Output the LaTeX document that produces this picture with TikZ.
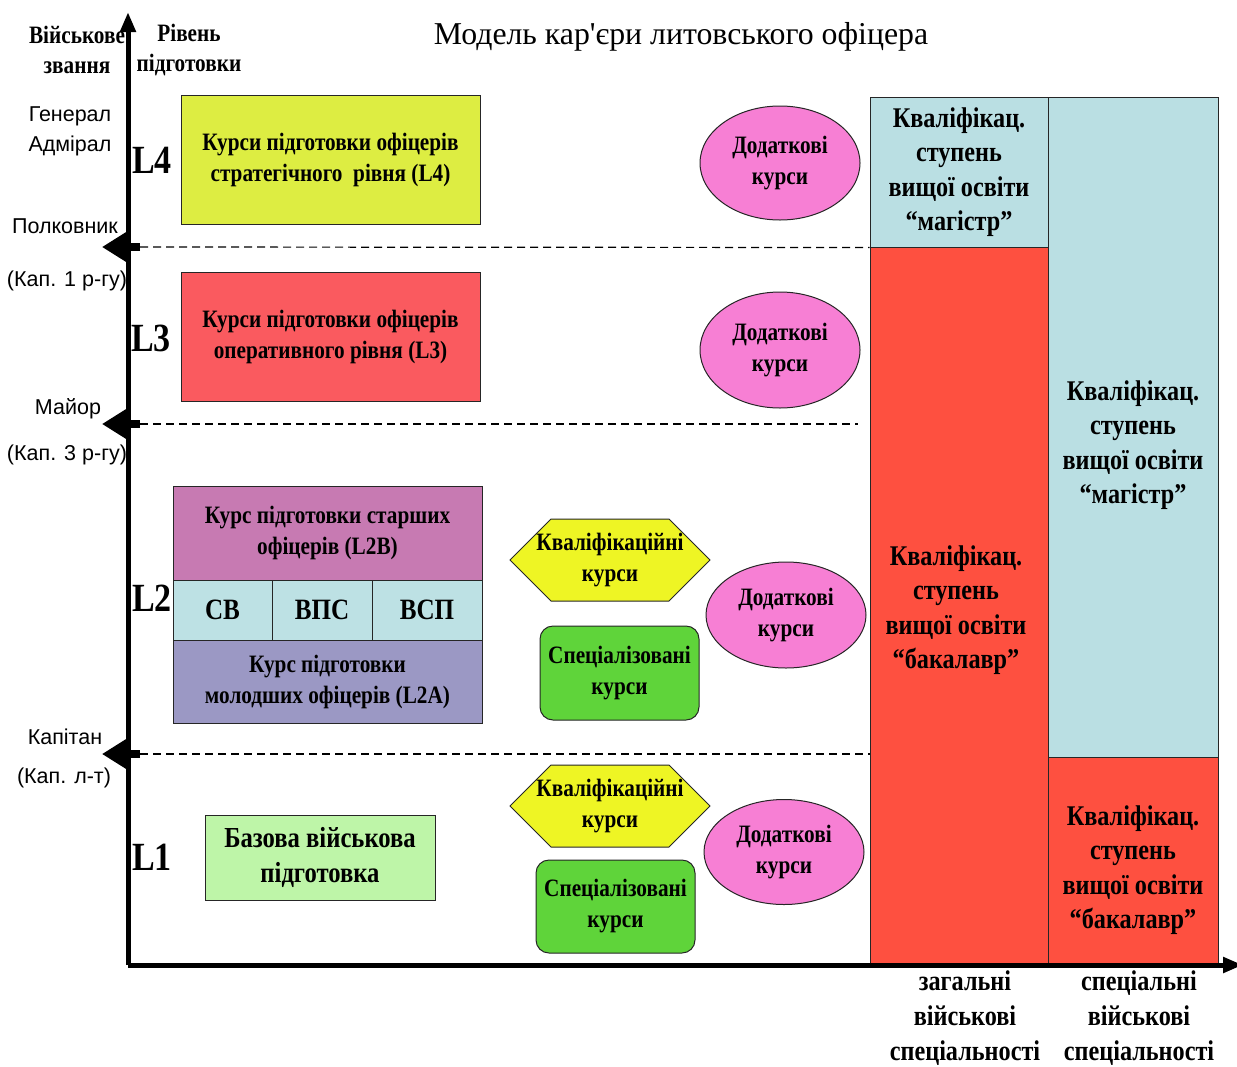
\documentclass[tikz,border=0pt]{standalone}
\usepackage{fontspec}
\setmainfont{Liberation Serif}
\newfontfamily\ranksf{Liberation Sans}
\newfontfamily\condrm[FakeStretch=0.85]{Liberation Serif}
\usetikzlibrary{arrows.meta,shapes.geometric,shapes.symbols}

\definecolor{strat}{RGB}{221,237,66}
\definecolor{oper}{RGB}{250,90,95}
\definecolor{senior}{RGB}{199,122,178}
\definecolor{branch}{RGB}{189,225,228}
\definecolor{junior}{RGB}{155,152,196}
\definecolor{basic}{RGB}{190,245,168}
\definecolor{qual}{RGB}{238,245,36}
\definecolor{spec}{RGB}{95,212,58}
\definecolor{extra}{RGB}{247,127,212}
\definecolor{bachelor}{RGB}{254,80,64}
\definecolor{master}{RGB}{186,223,227}

\begin{document}
\begin{tikzpicture}[x=1pt, y=-1pt,
    course/.style={draw=black!85, line width=1pt, align=center, inner sep=0pt,
      font=\condrm\bfseries\fontsize{25}{31}\selectfont},
    hexa/.style={course, signal, signal to=west and east, fill=qual, inner xsep=-15pt},
    extracourse/.style={course, ellipse, fill=extra, minimum width=160pt},
    degree/.style={course, fill=#1, font=\condrm\bfseries\fontsize{28.5}{34.5}\selectfont},
    rank/.style={font=\ranksf\fontsize{21.5}{30}\selectfont, align=center},
    level/.style={font=\condrm\bfseries\fontsize{40}{40}\selectfont},
    rankarrow/.style={line width=8pt, -{Triangle[length=24pt,width=28pt]}},
    grid/.style={dashed, dash pattern=on 8pt off 5pt, line width=1.2pt}]
  \useasboundingbox (0,0) rectangle (1237,1066);

  % Title and axis labels
  \node[font=\fontsize{31.8}{32}\selectfont] (title) at (681,37) {Модель кар\textquotesingle єри литовського офіцера};
  \node[font=\condrm\bfseries\fontsize{25}{30}\selectfont, align=center] (rankhead) at (77,50) {Військове\\звання};
  \node[font=\condrm\bfseries\fontsize{25}{30}\selectfont, align=center] (levelhead) at (189,50) {Рівень\\підготовки};

  % Ranks
  \node[rank] (general) at (70,131) {Генерал\\Адмірал};
  \node[rank] (colonel) at (65,226) {Полковник};
  \node[rank] (colonel2) at (67,281) {(Кап. 1 р-гу)};
  \node[rank] (major) at (68,409) {Майор};
  \node[rank] (major2) at (67,455) {(Кап. 3 р-гу)};
  \node[rank] (captain) at (65,737) {Капітан};
  \node[rank] (captain2) at (64,778) {(Кап. л-т)};

  % Levels
  \node[level] (L4) at (152,160) {L4};
  \node[level] (L3) at (151,338) {L3};
  \node[level] (L2) at (152,598) {L2};
  \node[level] (L1) at (152,857) {L1};

  % Officer courses
  \node[course, fill=strat, minimum width=299pt, minimum height=129pt] (l4box) at (330.5,159.5)
    {Курси підготовки офіцерів\\стратегічного\ \ рівня (L4)};
  \node[course, fill=oper, minimum width=299pt, minimum height=129pt] (l3box) at (330.5,336.5)
    {Курси підготовки офіцерів\\оперативного рівня (L3)};
  \node[course, fill=senior, minimum width=309pt, minimum height=94pt] (l2bbox) at (327.5,533)
    {Курс підготовки старших\\офіцерів (L2B)};
  \node[course, fill=branch, minimum width=99pt, minimum height=60pt, font=\condrm\bfseries\fontsize{29.5}{29.5}\selectfont] (sv) at (222.5,610) {СВ};
  \node[course, fill=branch, minimum width=100pt, minimum height=60pt, font=\condrm\bfseries\fontsize{29.5}{29.5}\selectfont] (vps) at (322,610) {ВПС};
  \node[course, fill=branch, minimum width=110pt, minimum height=60pt, font=\condrm\bfseries\fontsize{29.5}{29.5}\selectfont] (vsp) at (427,610) {\raisebox{-3pt}{ВСП}};
  \node[course, fill=junior, minimum width=309pt, minimum height=83pt] (l2abox) at (327.5,681.5)
    {Курс підготовки\\молодших офіцерів (L2A)};
  \node[course, fill=basic, minimum width=230pt, minimum height=85pt, font=\condrm\bfseries\fontsize{29}{35}\selectfont] (l1box) at (320,857.5)
    {Базова військова\\підготовка};

  % Qualification, specialised and extra courses
  \node[hexa, minimum width=200pt, minimum height=82pt] (qual2) at (610,560) {Кваліфікаційні\\курси};
  \node[hexa, minimum width=200pt, minimum height=82pt] (qual1) at (610,806) {Кваліфікаційні\\курси};
  \node[course, fill=spec, rounded corners=13pt, minimum width=159pt, minimum height=94pt] (spec2) at (619.5,673) {Спеціалізовані\\курси};
  \node[course, fill=spec, rounded corners=13pt, minimum width=159pt, minimum height=93pt] (spec1) at (615.5,906.5) {Спеціалізовані\\курси};
  \node[extracourse, minimum height=114pt] (add4) at (780,163) {Додаткові\\курси};
  \node[extracourse, minimum height=116pt] (add3) at (780,350) {Додаткові\\курси};
  \node[extracourse, minimum height=106pt] (add2) at (786,615) {Додаткові\\курси};
  \node[extracourse, minimum height=105pt] (add1) at (784,852) {Додаткові\\курси};

  % Degrees
  \node[degree=master, minimum width=178pt, minimum height=150pt] (mag1) at (959,172)
    {Кваліфікац.\\ступень\\вищої освіти\\“магістр”};
  \node[degree=bachelor, minimum width=178pt, minimum height=718pt] (bak1) at (959,606) {};
  \node[degree=master, minimum width=170pt, minimum height=660pt] (mag2) at (1133,427) {};
  \node[degree=bachelor, minimum width=170pt, minimum height=208pt] (bak2) at (1133,861) {};
  \node[degree=bachelor, draw=none, fill=none] (bak1text) at (956,610)
    {Кваліфікац.\\ступень\\вищої освіти\\“бакалавр”};
  \node[degree=master, draw=none, fill=none] (mag2text) at (1133,445)
    {Кваліфікац.\\ступень\\вищої освіти\\“магістр”};
  \node[degree=bachelor, draw=none, fill=none] (bak2text) at (1133,870)
    {Кваліфікац.\\ступень\\вищої освіти\\“бакалавр”};
  \node[font=\condrm\bfseries\fontsize{28.5}{35}\selectfont, align=center] (generalspec) at (965,1018)
    {загальні\\військові\\спеціальності};
  \node[font=\condrm\bfseries\fontsize{28.5}{35}\selectfont, align=center] (specialspec) at (1139,1018)
    {спеціальні\\військові\\спеціальності};

  % Axes
  \coordinate (origin) at (128,965);
  \coordinate (ytip) at (130,12);
  \coordinate (xtip) at (1243,965);
  \draw[line width=5pt, -{Triangle[length=20pt,width=15pt]}] (origin) -- (origin |- ytip);
  \draw[line width=5pt, -{Triangle[length=20pt,width=15pt]}] (origin) -- (xtip);

  % Rank borders
  \coordinate (r4) at (140,247);
  \coordinate (r3) at (140,424);
  \coordinate (r2) at (140,754);
  \draw[rankarrow] (r4) -- ++(-38,0) coordinate (r4tip);
  \draw[rankarrow] (r3) -- ++(-38,0) coordinate (r3tip);
  \draw[rankarrow] (r2) -- ++(-38,0) coordinate (r2tip);
  \draw[grid] (r4) -- (mag1.south west);
  \draw[grid] (r3) -- (858,424) coordinate (r3end);
  \draw[grid] (r2) -- (r2 -| bak1.west);
\end{tikzpicture}
\end{document}
